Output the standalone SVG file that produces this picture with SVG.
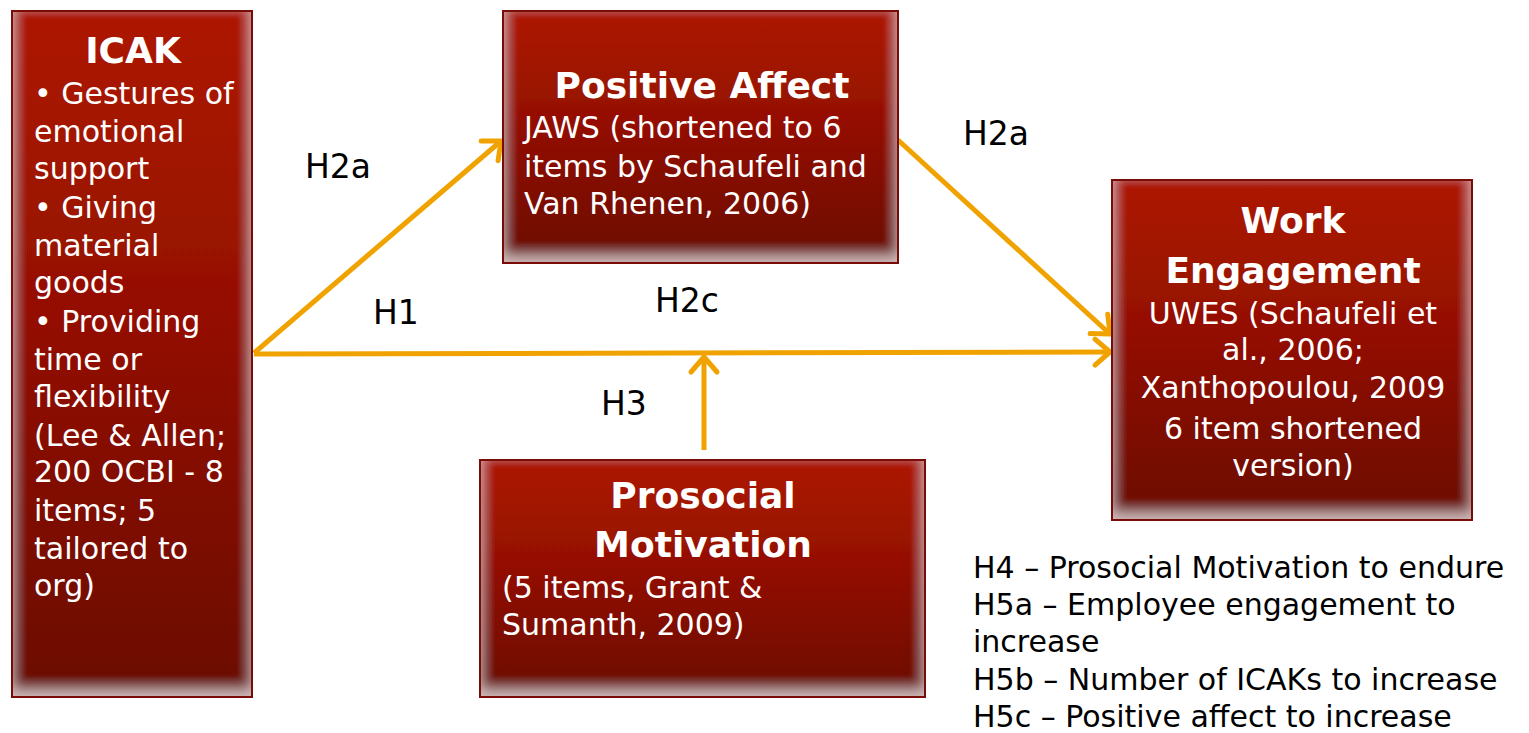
<svg xmlns="http://www.w3.org/2000/svg" width="1529" height="733" viewBox="0 0 1529 733">
<defs>
<linearGradient id="boxg" x1="0" y1="0" x2="0" y2="1">
<stop offset="0" stop-color="#ad1806"/>
<stop offset="0.45" stop-color="#931002"/>
<stop offset="1" stop-color="#6a0700"/>
</linearGradient>
<filter id="glow" x="-10%" y="-10%" width="120%" height="120%">
<feFlood flood-color="#ffeeee" result="f"/>
<feComposite in="f" in2="SourceAlpha" operator="out" result="inv"/>
<feOffset in="inv" dx="0" dy="-7" result="off"/>
<feGaussianBlur in="off" stdDeviation="7" result="blur"/>
<feComposite in="blur" in2="SourceAlpha" operator="in" result="g"/>
<feComponentTransfer in="g" result="g2"><feFuncA type="linear" slope="0.6"/></feComponentTransfer>
<feMerge><feMergeNode in="SourceGraphic"/><feMergeNode in="g2"/></feMerge>
</filter>
<marker id="chev" markerUnits="userSpaceOnUse" markerWidth="40" markerHeight="40" viewBox="-20 -20 40 40" refX="0" refY="0" orient="auto">
<path d="M-15,-13 L0,0 L-15,13" fill="none" stroke="#f0a300" stroke-width="5" stroke-linecap="round" stroke-linejoin="round"/>
</marker>
</defs>
<style>
.box{fill:url(#boxg);filter:url(#glow)}
.bd{fill:none;stroke:#7a0c08;stroke-width:2}
.t{font-family:"DejaVu Sans",sans-serif;fill:#fff;font-size:30px}
.h{font-family:"DejaVu Sans",sans-serif;fill:#fff;font-size:36px;font-weight:bold}
.c{text-anchor:middle}
.lbl{font-family:"DejaVu Sans",sans-serif;fill:#000;font-size:33px}
.leg{font-family:"DejaVu Sans",sans-serif;fill:#000;font-size:30px}
.conn{stroke:#f0a300;stroke-width:5;fill:none;marker-end:url(#chev)}
</style>
<rect width="1529" height="733" fill="#fff"/>
<g id="connectors">
<line class="conn" x1="254" y1="353" x2="501" y2="141"/>
<line class="conn" x1="898" y1="140" x2="1110" y2="334"/>
<line class="conn" x1="254" y1="354" x2="1110" y2="352"/>
<line class="conn" x1="704" y1="450" x2="704" y2="357"/>
</g>
<g id="icak">
<rect class="box" x="12" y="11" width="240" height="686"/>
<rect class="bd" x="12" y="11" width="240" height="686"/>
<text class="h c" x="133" y="63">ICAK</text>
<text class="t" x="34" y="104">• Gestures of</text>
<text class="t" x="34" y="142">emotional</text>
<text class="t" x="34" y="179">support</text>
<text class="t" x="34" y="218">• Giving</text>
<text class="t" x="34" y="256">material</text>
<text class="t" x="34" y="293">goods</text>
<text class="t" x="34" y="332">• Providing</text>
<text class="t" x="34" y="370">time or</text>
<text class="t" x="34" y="407">flexibility</text>
<text class="t" x="34" y="446">(Lee &amp; Allen;</text>
<text class="t" x="34" y="482">200 OCBI - 8</text>
<text class="t" x="34" y="521">items; 5</text>
<text class="t" x="34" y="559">tailored to</text>
<text class="t" x="34" y="596">org)</text>
</g>
<g id="positive-affect">
<rect class="box" x="503" y="11" width="395" height="252"/>
<rect class="bd" x="503" y="11" width="395" height="252"/>
<text class="h c" x="702" y="98">Positive Affect</text>
<text class="t" x="524" y="138">JAWS (shortened to 6</text>
<text class="t" x="524" y="177">items by Schaufeli and</text>
<text class="t" x="524" y="214">Van Rhenen, 2006)</text>
</g>
<g id="work-engagement">
<rect class="box" x="1112" y="180" width="360" height="340"/>
<rect class="bd" x="1112" y="180" width="360" height="340"/>
<text class="h c" x="1293" y="233">Work</text>
<text class="h c" x="1293" y="283">Engagement</text>
<text class="t c" x="1293" y="324">UWES (Schaufeli et</text>
<text class="t c" x="1293" y="360">al., 2006;</text>
<text class="t c" x="1293" y="398">Xanthopoulou, 2009</text>
<text class="t c" x="1293" y="439">6 item shortened</text>
<text class="t c" x="1293" y="476">version)</text>
</g>
<g id="prosocial-motivation">
<rect class="box" x="480" y="460" width="445" height="237"/>
<rect class="bd" x="480" y="460" width="445" height="237"/>
<text class="h c" x="703" y="508">Prosocial</text>
<text class="h c" x="703" y="557">Motivation</text>
<text class="t" x="502" y="598">(5 items, Grant &amp;</text>
<text class="t" x="502" y="635">Sumanth, 2009)</text>
</g>
<g id="labels">
<text class="lbl" x="305" y="178">H2a</text>
<text class="lbl" x="963" y="145">H2a</text>
<text class="lbl" x="373" y="324">H1</text>
<text class="lbl" x="655" y="312">H2c</text>
<text class="lbl" x="601" y="415">H3</text>
</g>
<g id="legend">
<text class="leg" x="973" y="578">H4 – Prosocial Motivation to endure</text>
<text class="leg" x="973" y="615">H5a – Employee engagement to</text>
<text class="leg" x="973" y="652">increase</text>
<text class="leg" x="973" y="690">H5b – Number of ICAKs to increase</text>
<text class="leg" x="973" y="727">H5c – Positive affect to increase</text>
</g>
</svg>
